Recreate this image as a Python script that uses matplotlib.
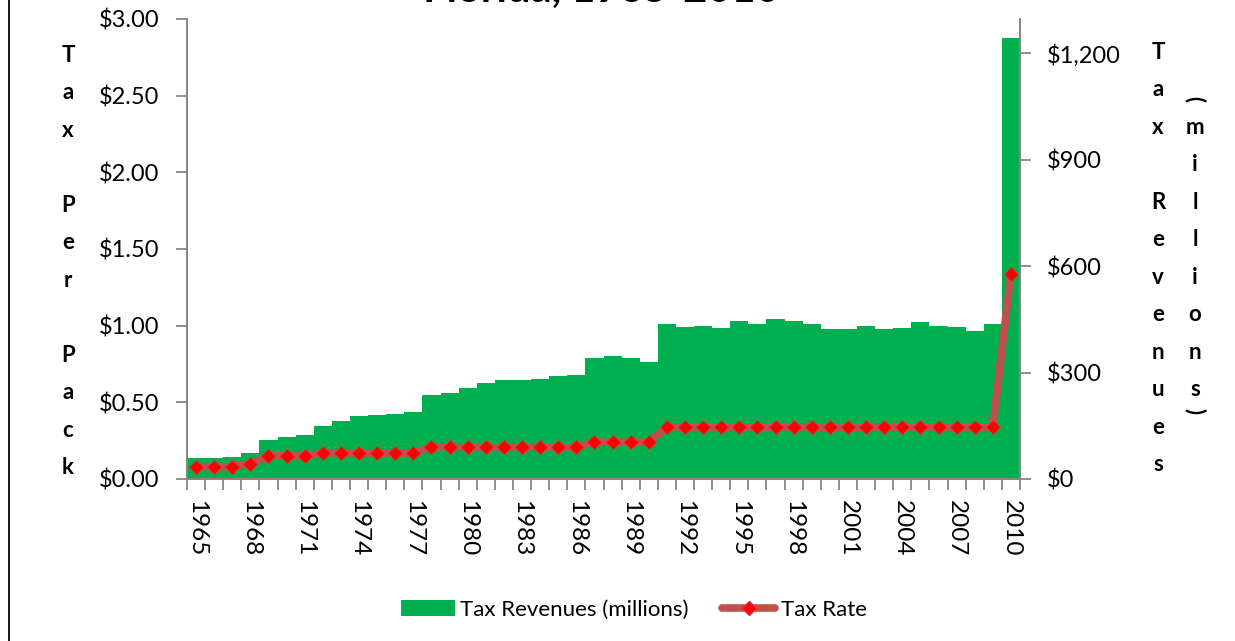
import matplotlib
matplotlib.use("Agg")
import matplotlib.pyplot as plt
from matplotlib.lines import Line2D
from matplotlib.patches import Patch

years = list(range(1965, 2011))
revenue = [58, 60, 62, 74, 111, 118, 125, 149, 163, 177, 180, 183, 190, 236, 242,
           256, 271, 280, 278, 282, 289, 294, 342, 347, 340, 329, 437, 427, 431, 426,
           445, 437, 452, 445, 436, 424, 423, 431, 424, 426, 442, 432, 428, 418, 437,
           1242]
tax_rate = [0.08, 0.08, 0.08, 0.10, 0.15, 0.15, 0.15, 0.17, 0.17, 0.17, 0.17, 0.17,
            0.17, 0.21, 0.21, 0.21, 0.21, 0.21, 0.21, 0.21, 0.21, 0.21, 0.24, 0.24,
            0.24, 0.24, 0.339, 0.339, 0.339, 0.339, 0.339, 0.339, 0.339, 0.339, 0.339,
            0.339, 0.339, 0.339, 0.339, 0.339, 0.339, 0.339, 0.339, 0.339, 0.339, 1.339]
left_ticks = [0, 0.5, 1.0, 1.5, 2.0, 2.5, 3.0]
right_ticks = [0, 300, 600, 900, 1200]
title = "Florida, 1965-2010"

plt.rcParams['font.family'] = ['Lato', 'DejaVu Sans']

W, H = 1235, 641
fig = plt.figure(figsize=(W / 100, H / 100), dpi=100)
ax = fig.add_axes([187 / W, 1 - 479 / H, 833 / W, 460 / H])
ax2 = ax.twinx()

x = list(range(len(years)))
ax2.bar(x, revenue, width=1.0, color='#00B050', linewidth=0)
ax.plot(x, tax_rate, color='#C0504D', linewidth=5.5, marker='D', markersize=7.5,
        markerfacecolor='#FF0000', markeredgecolor='#E8262B', markeredgewidth=0.6,
        solid_joinstyle='round')

ax.set_zorder(ax2.get_zorder() + 1)
ax.patch.set_visible(False)

ax.set_xlim(-0.5, len(years) - 0.5)
ax.set_ylim(0, 3.0)
ax2.set_ylim(0, 1296)

grey = '#868686'
for a in (ax, ax2):
    for s in a.spines.values():
        s.set_color(grey)
        s.set_linewidth(1.3)
    a.spines['top'].set_visible(False)

ax.set_yticks(left_ticks)
ax.set_yticklabels([f"${v:.2f}" for v in left_ticks])
ax.tick_params(axis='y', direction='out', length=8, width=1.3, color=grey,
               pad=12, labelsize=17)
ax2.set_yticks(right_ticks)
ax2.set_yticklabels([f"${v:,.0f}" for v in right_ticks])
ax2.tick_params(axis='y', direction='out', length=8, width=1.3, color=grey,
                pad=11, labelsize=17)

label_idx = list(range(0, len(years), 3))
ax.set_xticks(label_idx)
ax.set_xticklabels([str(years[i]) for i in label_idx], rotation=-90)
ax.tick_params(axis='x', which='major', length=0, pad=15, labelsize=17.5)
ax.set_xticks([i - 0.5 for i in range(len(years) + 1)], minor=True)
ax.tick_params(axis='x', which='minor', direction='out', length=8, width=1.3,
               color=grey)
ax2.tick_params(axis='x', length=0)

# title (cropped at top in reference)
fig.text(0.5 * (420 + 783) / W, 1 - 2.0 / H, title, ha='center', va='baseline',
         fontsize=30, fontweight='bold')

# stacked axis titles
fs_lbl = 16
ax_lbl = dict(ha='center', va='top', fontsize=fs_lbl, fontweight='bold',
              linespacing=1.97)
fig.text(68 / W, 1 - 45 / H, "T\na\nx\n\nP\ne\nr\n\nP\na\nc\nk", **ax_lbl)
fig.text(1158 / W, 1 - 42 / H, "T\na\nx\n\nR\ne\nv\ne\nn\nu\ne\ns", **ax_lbl)
fig.text(1195 / W, 1 - 117 / H, "m\ni\nl\nl\ni\no\nn\ns", **ax_lbl)
fig.text(1195 / W, 1 - 99 / H, "(", ha='center', va='center', fontsize=fs_lbl,
         fontweight='bold', rotation=-90)
fig.text(1195 / W, 1 - 411 / H, ")", ha='center', va='center', fontsize=fs_lbl,
         fontweight='bold', rotation=-90)

# left frame line
fig.add_artist(Line2D([9 / W, 9 / W], [0, 1], transform=fig.transFigure,
                      color='black', linewidth=1.3))

handles = [Patch(facecolor='#00B050', edgecolor='none'),
           Line2D([], [], color='#C0504D', linewidth=5.5, marker='D',
                  markersize=7.5, markerfacecolor='#FF0000',
                  markeredgecolor='#E8262B', solid_capstyle='round')]
fig.legend(handles, ["Tax Revenues (millions)", "Tax Rate"], loc='center',
           bbox_to_anchor=(634 / W, 1 - 610 / H), ncol=2, frameon=False,
           fontsize=16, handlelength=2.4, handleheight=0.75, handletextpad=0.25,
           columnspacing=1.5)

fig.savefig("out.png", dpi=100)
